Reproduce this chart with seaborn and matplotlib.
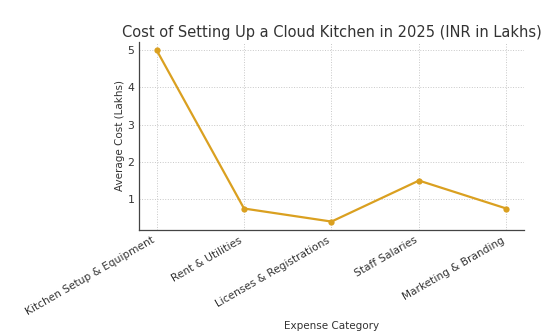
import matplotlib
matplotlib.use("Agg")
import matplotlib.pyplot as plt
import seaborn as sns
import pandas as pd

categories = [
    "Kitchen Setup & Equipment",
    "Rent & Utilities",
    "Licenses & Registrations",
    "Staff Salaries",
    "Marketing & Branding",
]
avg_cost = [5.0, 0.75, 0.4, 1.5, 0.75]

df = pd.DataFrame({"Expense Category": categories, "Average Cost (Lakhs)": avg_cost})

sns.set_style("ticks")
plt.rcParams["font.family"] = ["DejaVu Sans"]

fig, ax = plt.subplots(figsize=(5.52, 3.35), dpi=100)
sns.lineplot(
    data=df, x="Expense Category", y="Average Cost (Lakhs)",
    marker="o", color="#DAA020", linewidth=1.6, markersize=4.5,
    markeredgewidth=0, sort=False, ax=ax,
)
ax.grid(True, linestyle=":", color="#c8c8c8", linewidth=0.7)
ax.set_title("Cost of Setting Up a Cloud Kitchen in 2025 (INR in Lakhs)",
             fontsize=10.5, color="#333333", pad=3.5)
ax.set_xlabel("Expense Category", fontsize=7.5, color="#333333", labelpad=3)
ax.set_ylabel("Average Cost (Lakhs)", fontsize=7.5, color="#333333", labelpad=2)
ax.set_yticks([1, 2, 3, 4, 5])
plt.setp(ax.get_xticklabels(), rotation=30, ha="right", fontsize=7.6, color="#333333")
plt.setp(ax.get_yticklabels(), fontsize=7.8, color="#333333")
for s in ("top", "right"):
    ax.spines[s].set_visible(False)
for s in ("left", "bottom"):
    ax.spines[s].set_color("#444444")
    ax.spines[s].set_linewidth(0.9)
ax.tick_params(length=0, pad=3.5)

fig.subplots_adjust(left=0.252, right=0.949, top=0.876, bottom=0.313)
fig.savefig("out.png", dpi=100)
